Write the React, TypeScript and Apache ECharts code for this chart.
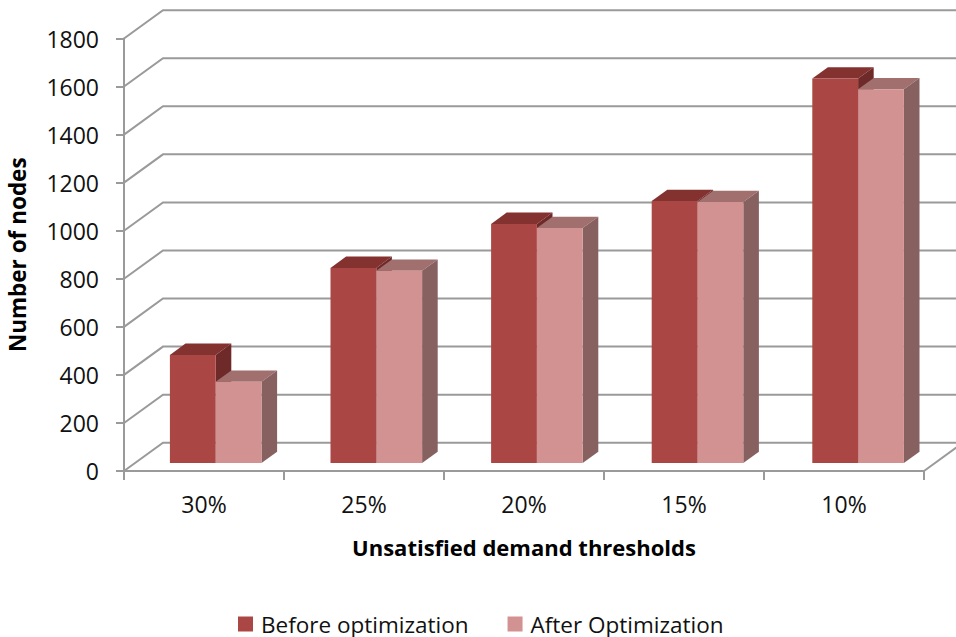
import React, { useEffect, useRef } from "react";
import * as echarts from "echarts";

const categories = ["30%", "25%", "20%", "15%", "10%"];
const beforeOptimization = [450, 812, 995, 1090, 1600];
const afterOptimization = [338, 800, 978, 1086, 1555];
const yTicks = [0, 200, 400, 600, 800, 1000, 1200, 1400, 1600, 1800];

const WALL_DX = 39;
const WALL_DY = 28.3;
const BAR_FRONT_DX = 11.7;
const BAR_FRONT_DY = 8;
const BAR_DEPTH_DX = 15.6;
const BAR_DEPTH_DY = 11.3;
const BAR_WIDTH = 45.8;
const BAR_STEP_EXTRA = 0.6;
const GRID_COLOR = "#9a9a9a";
const LINE_WIDTH = 2;
const FONT = "Open Sans";

// One lit box: front face, roof and right-hand side.
function barBox(
  api: any,
  slot: number,
  front: string,
  top: string,
  side: string
) {
  const idx = api.value(0);
  const base = api.coord([idx, 0]);
  const peak = api.coord([idx, api.value(1)]);
  const x0 = base[0] + BAR_FRONT_DX + idx * BAR_STEP_EXTRA + (slot - 1) * BAR_WIDTH;
  const x1 = x0 + BAR_WIDTH;
  const yb = base[1] - BAR_FRONT_DY;
  const yt = peak[1] - BAR_FRONT_DY;
  const dx = BAR_DEPTH_DX;
  const dy = BAR_DEPTH_DY;
  return {
    type: "group",
    children: [
      {
        type: "polygon",
        shape: { points: [[x0, yt], [x0 + dx, yt - dy], [x1 + dx, yt - dy], [x1, yt]] },
        style: { fill: top },
      },
      {
        type: "polygon",
        shape: { points: [[x1, yt], [x1 + dx, yt - dy], [x1 + dx, yb - dy], [x1, yb]] },
        style: { fill: side },
      },
      {
        type: "rect",
        shape: { x: x0, y: yt, width: BAR_WIDTH, height: yb - yt },
        style: { fill: front },
      },
    ],
  };
}

export default function App() {
  const ref = useRef<HTMLDivElement>(null);

  useEffect(() => {
    const chart = echarts.init(ref.current!, null, { renderer: "svg" });
    chart.setOption({
      animation: false,
      backgroundColor: "#ffffff",
      textStyle: { fontFamily: FONT },
      grid: { left: 124, top: 38.5, width: 800, height: 432.5, containLabel: false, outerBoundsMode: "none" },
      legend: {
        data: ["Before optimization", "After Optimization"],
        left: 238,
        top: 611,
        padding: 0,
        icon: "rect",
        itemWidth: 15,
        itemHeight: 15,
        itemGap: 39,
        textStyle: { fontFamily: FONT, fontSize: 22.5, lineHeight: 22, color: "#111111", padding: [0, 0, 4, 3] },
      },
      xAxis: {
        type: "category",
        data: categories,
        name: "Unsatisfied demand thresholds",
        nameLocation: "middle",
        nameGap: 65,
        nameTextStyle: { fontFamily: FONT, fontSize: 22, fontWeight: "bold", color: "#000000" },
        axisLine: { lineStyle: { color: GRID_COLOR, width: LINE_WIDTH } },
        axisTick: { show: true, length: 9, lineStyle: { color: GRID_COLOR, width: LINE_WIDTH } },
        axisLabel: { fontFamily: FONT, fontSize: 23, color: "#111111", margin: 21 },
        splitLine: { show: false },
      },
      yAxis: {
        type: "value",
        min: 0,
        max: 1800,
        interval: 200,
        name: "Number of nodes",
        nameLocation: "middle",
        nameGap: 95,
        nameTextStyle: { fontFamily: FONT, fontSize: 22.5, fontWeight: "bold", color: "#000000" },
        axisLine: { show: true, lineStyle: { color: GRID_COLOR, width: LINE_WIDTH } },
        axisTick: { show: true, length: 8, lineStyle: { color: GRID_COLOR, width: LINE_WIDTH } },
        axisLabel: { fontFamily: FONT, fontSize: 23, color: "#111111", margin: 25, formatter: (v: number) => String(v) },
        splitLine: { show: false },
      },
      series: [
        {
          // Side-wall diagonals and back-wall gridlines, one per value tick.
          type: "custom",
          name: "Walls",
          coordinateSystem: "cartesian2d",
          silent: true,
          z: 1,
          data: yTicks.map((v) => [0, v]),
          encode: { x: 0, y: 1 },
          renderItem: (params: any, api: any) => {
            const y = api.coord([0, api.value(1)])[1];
            const sys = params.coordSys;
            const left = sys.x;
            const right = sys.x + sys.width;
            const children: any[] = [
              {
                type: "polyline",
                shape: {
                  points: [
                    [left, y],
                    [left + WALL_DX, y - WALL_DY],
                    [right + WALL_DX, y - WALL_DY],
                  ],
                },
                style: { stroke: GRID_COLOR, lineWidth: LINE_WIDTH, fill: "none" },
              },
            ];
            if (api.value(1) === 0) {
              children.push({
                type: "line",
                shape: { x1: right, y1: y, x2: right + WALL_DX, y2: y - WALL_DY },
                style: { stroke: GRID_COLOR, lineWidth: LINE_WIDTH },
              });
            }
            return { type: "group", children };
          },
        },
        {
          type: "custom",
          name: "Before optimization",
          coordinateSystem: "cartesian2d",
          z: 2,
          itemStyle: { color: "#AA4643" },
          data: beforeOptimization.map((v, i) => [i, v]),
          encode: { x: 0, y: 1 },
          renderItem: (_p: any, api: any) => barBox(api, 0, "#AA4643", "#843230", "#6E2A28"),
        },
        {
          type: "custom",
          name: "After Optimization",
          coordinateSystem: "cartesian2d",
          z: 3,
          itemStyle: { color: "#D19291" },
          data: afterOptimization.map((v, i) => [i, v]),
          encode: { x: 0, y: 1 },
          renderItem: (_p: any, api: any) => barBox(api, 1, "#D19291", "#A06F6E", "#866160"),
        },
      ],
    });
    return () => chart.dispose();
  }, []);

  return (
    <div
      ref={ref}
      style={{ position: "fixed", left: 0, top: 0, width: 956, height: 637 }}
    />
  );
}
